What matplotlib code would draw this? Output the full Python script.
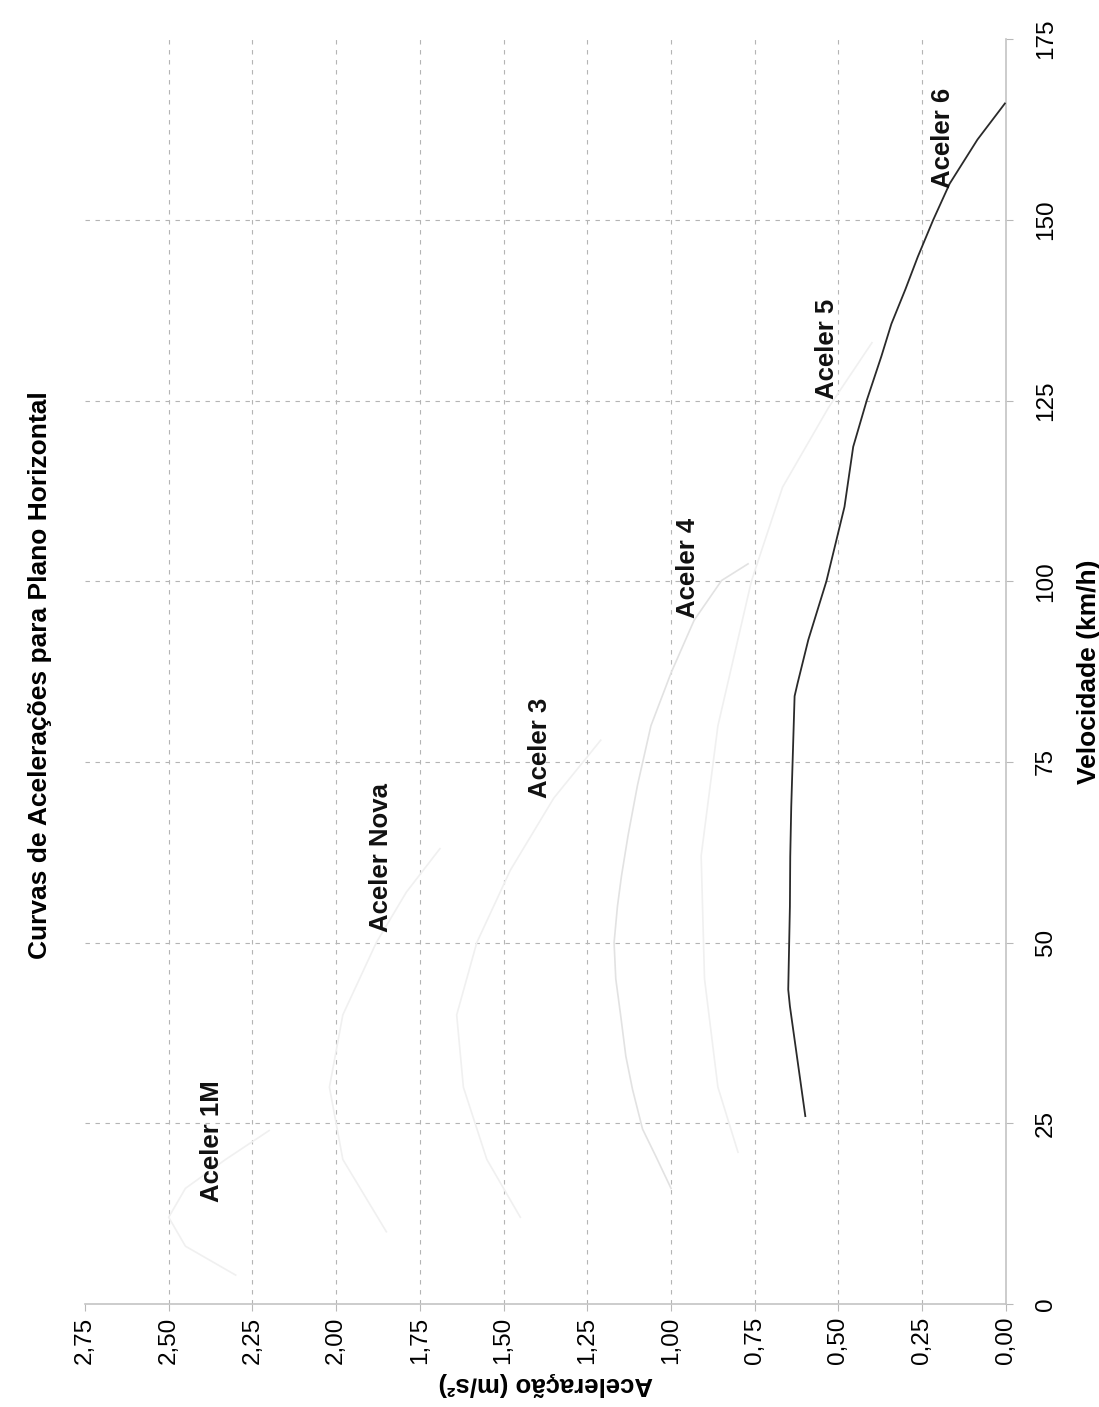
import matplotlib.pyplot as plt
import matplotlib as mpl

mpl.rcParams['font.family'] = ['Liberation Sans', 'DejaVu Sans']

# acceleration curves per gear: speed (km/h) and acceleration (m/s2)
v_1m = [4, 8, 12, 16, 20, 24]
a_1m = [2.30, 2.45, 2.50, 2.45, 2.33, 2.20]

v_nova = [10, 20, 30, 40, 50, 57, 63]
a_nova = [1.85, 1.98, 2.02, 1.98, 1.88, 1.79, 1.69]

v_3 = [12, 20, 30, 40, 50, 60, 70, 78]
a_3 = [1.45, 1.55, 1.62, 1.64, 1.58, 1.48, 1.35, 1.21]

v_4 = [16, 20.4, 24.2, 29.7, 34.3, 39.8, 45.0, 50.0, 55.0, 59.2, 64.9, 71.8, 80, 87.3, 94.6, 100.1, 102.4]
a_4 = [1.00, 1.045, 1.085, 1.115, 1.135, 1.150, 1.165, 1.170, 1.160, 1.148, 1.128, 1.10, 1.06, 1.00, 0.931, 0.849, 0.77]

v_5 = [21, 30, 45, 62, 80, 100, 113, 124, 133]
a_5 = [0.80, 0.86, 0.90, 0.91, 0.86, 0.76, 0.667, 0.53, 0.40]

v_6 = [26.0, 41.2, 43.5, 55.0, 61.9, 68.8, 84.1, 85.9, 91.9, 100.0, 110.3, 118.6, 125.1,
       131.1, 135.6, 140.4, 144.9, 150.0, 155.0, 161.1, 166.1]
a_6 = [0.599, 0.645, 0.650, 0.645, 0.644, 0.641, 0.631, 0.622, 0.590, 0.536, 0.482, 0.456,
       0.415, 0.372, 0.342, 0.300, 0.263, 0.217, 0.168, 0.085, 0.003]

# label text and anchor (speed, acceleration)
labels = ['Aceler 1M', 'Aceler Nova', 'Aceler 3', 'Aceler 4', 'Aceler 5', 'Aceler 6']
label_v = [22.6, 61.8, 77.0, 101.8, 132.2, 161.3]
label_a = [2.37, 1.865, 1.392, 0.950, 0.535, 0.189]

acc_ticks = [0, 0.25, 0.5, 0.75, 1.0, 1.25, 1.5, 1.75, 2.0, 2.25, 2.5, 2.75]
vel_ticks = [0, 25, 50, 75, 100, 125, 150, 175]

fig = plt.figure(figsize=(10.99, 14.07), dpi=100)
ax = fig.add_axes([0.0773, 0.0732, 0.838, 0.899])

# chart is laid out sideways: acceleration runs right-to-left, speed bottom-to-top
for a in acc_ticks[1:-1]:
    ax.axvline(a, color='#b4b4b4', lw=0.8, ls=(0, (4, 5)), zorder=1)
for v in vel_ticks[1:-1]:
    ax.axhline(v, color='#b4b4b4', lw=0.8, ls=(0, (4, 5)), zorder=1)

faint = '#f0f0f0'
ax.plot(a_1m, v_1m, color=faint, lw=1.2, zorder=2)
ax.plot(a_nova, v_nova, color=faint, lw=1.2, zorder=2)
ax.plot(a_3, v_3, color=faint, lw=1.2, zorder=2)
ax.plot(a_4, v_4, color='#e2e2e2', lw=1.2, zorder=2)
ax.plot(a_5, v_5, color=faint, lw=1.2, zorder=2)
ax.plot(a_6, v_6, color='#2a2a2a', lw=1.3, zorder=3)

for txt, v, a in zip(labels, label_v, label_a):
    ax.text(a, v, txt, rotation=90, ha='center', va='center',
            fontsize=18.5, fontweight='bold', color='#111111')

ax.set_xlim(2.75, 0)
ax.set_ylim(0, 175)
ax.set_xticks(acc_ticks)
ax.set_xticklabels([f'{t:.2f}'.replace('.', ',') for t in acc_ticks], rotation=90)
ax.set_yticks(vel_ticks)
ax.set_yticklabels([str(t) for t in vel_ticks], rotation=90, va='center')
ax.yaxis.tick_right()
ax.yaxis.set_label_position('right')
ax.tick_params(axis='x', labelsize=17.5, length=5, color='#b8b8b8', pad=4)
ax.tick_params(axis='y', labelsize=17.5, length=5, color='#b8b8b8', pad=16)

for s in ['top', 'left']:
    ax.spines[s].set_visible(False)
for s in ['bottom', 'right']:
    ax.spines[s].set_color('#c4c4c4')
    ax.spines[s].set_linewidth(1.2)

ax.set_xlabel('Aceleração (m/s²)', rotation=180, fontsize=18.5, fontweight='bold', labelpad=6)
ax.set_ylabel('Velocidade (km/h)', rotation=90, fontsize=19, fontweight='bold', labelpad=14)

fig.text(0.036, 0.52, 'Curvas de Acelerações para Plano Horizontal', rotation=90,
         ha='center', va='center', fontsize=19, fontweight='bold')

fig.savefig('out.png', dpi=100, facecolor='white')
